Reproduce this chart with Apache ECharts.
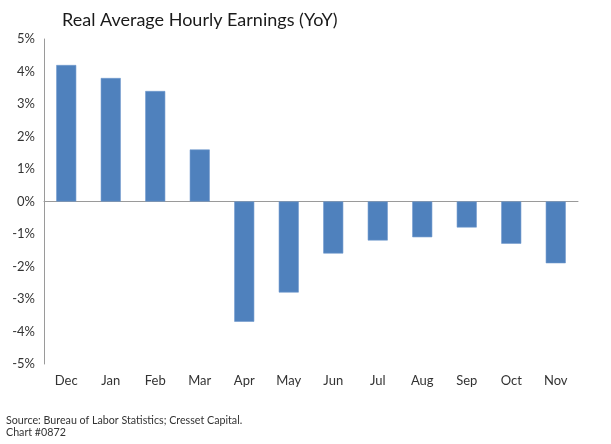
<!DOCTYPE html>
<html><head><meta charset="utf-8">
<script src="https://cdn.jsdelivr.net/npm/echarts@6/dist/echarts.min.js"></script>
<style>html,body{margin:0;padding:0;background:#fff}#c{width:611px;height:444px}</style>
</head><body><div id="c"></div>
<script>
const categories = ['Dec','Jan','Feb','Mar','Apr','May','Jun','Jul','Aug','Sep','Oct','Nov'];
const values = [4.2, 3.8, 3.4, 1.6, -3.7, -2.8, -1.6, -1.2, -1.1, -0.8, -1.3, -1.9];
const titleText = 'Real Average Hourly Earnings (YoY)';
const sourceText = 'Source: Bureau of Labor Statistics; Cresset Capital.\nChart #0872';
const font = 'Lato, "Open Sans", sans-serif';
const chart = echarts.init(document.getElementById('c'), null, {renderer:'canvas'});
chart.setOption({
  animation: false,
  backgroundColor: '#fff',
  title: [{text: titleText, left: 62, top: 11, padding:0, textStyle:{fontFamily:font, fontSize:18, fontWeight:'normal', color:'#1a1a1a'}},
          {text: sourceText, left: 6, top: 415, padding:0, textStyle:{fontFamily:font, fontSize:10.7, fontWeight:'normal', color:'#333', lineHeight:12}}],
  grid: {left: 44, right: 33, top: 39, bottom: 80, containLabel:false},
  xAxis: [{type:'category', data: categories,
    axisLine:{onZero:true, lineStyle:{color:'#9a9a9a', width:1}},
    axisTick:{show:false},
    axisLabel:{show:false}},
    {type:'category', data: categories, position:'bottom',
    axisLine:{show:false, onZero:false},
    axisTick:{show:false},
    axisLabel:{show:true, fontFamily:font, fontSize:13, color:'#333', margin:10}}],
  yAxis: {type:'value', min:-5, max:5, interval:1,
    axisLine:{show:true, lineStyle:{color:'#9a9a9a'}},
    axisTick:{show:false},
    splitLine:{show:false},
    axisLabel:{formatter: v => v + '%', fontFamily:font, fontSize:13, color:'#333', margin:9}},
  series: [{type:'bar', data: values, barWidth: 20, xAxisIndex:0,
    itemStyle:{color:'#4f81bd', borderColor:'#6d97cc', borderWidth:0.6},
    label:{show:false}}]
});
</script></body></html>
